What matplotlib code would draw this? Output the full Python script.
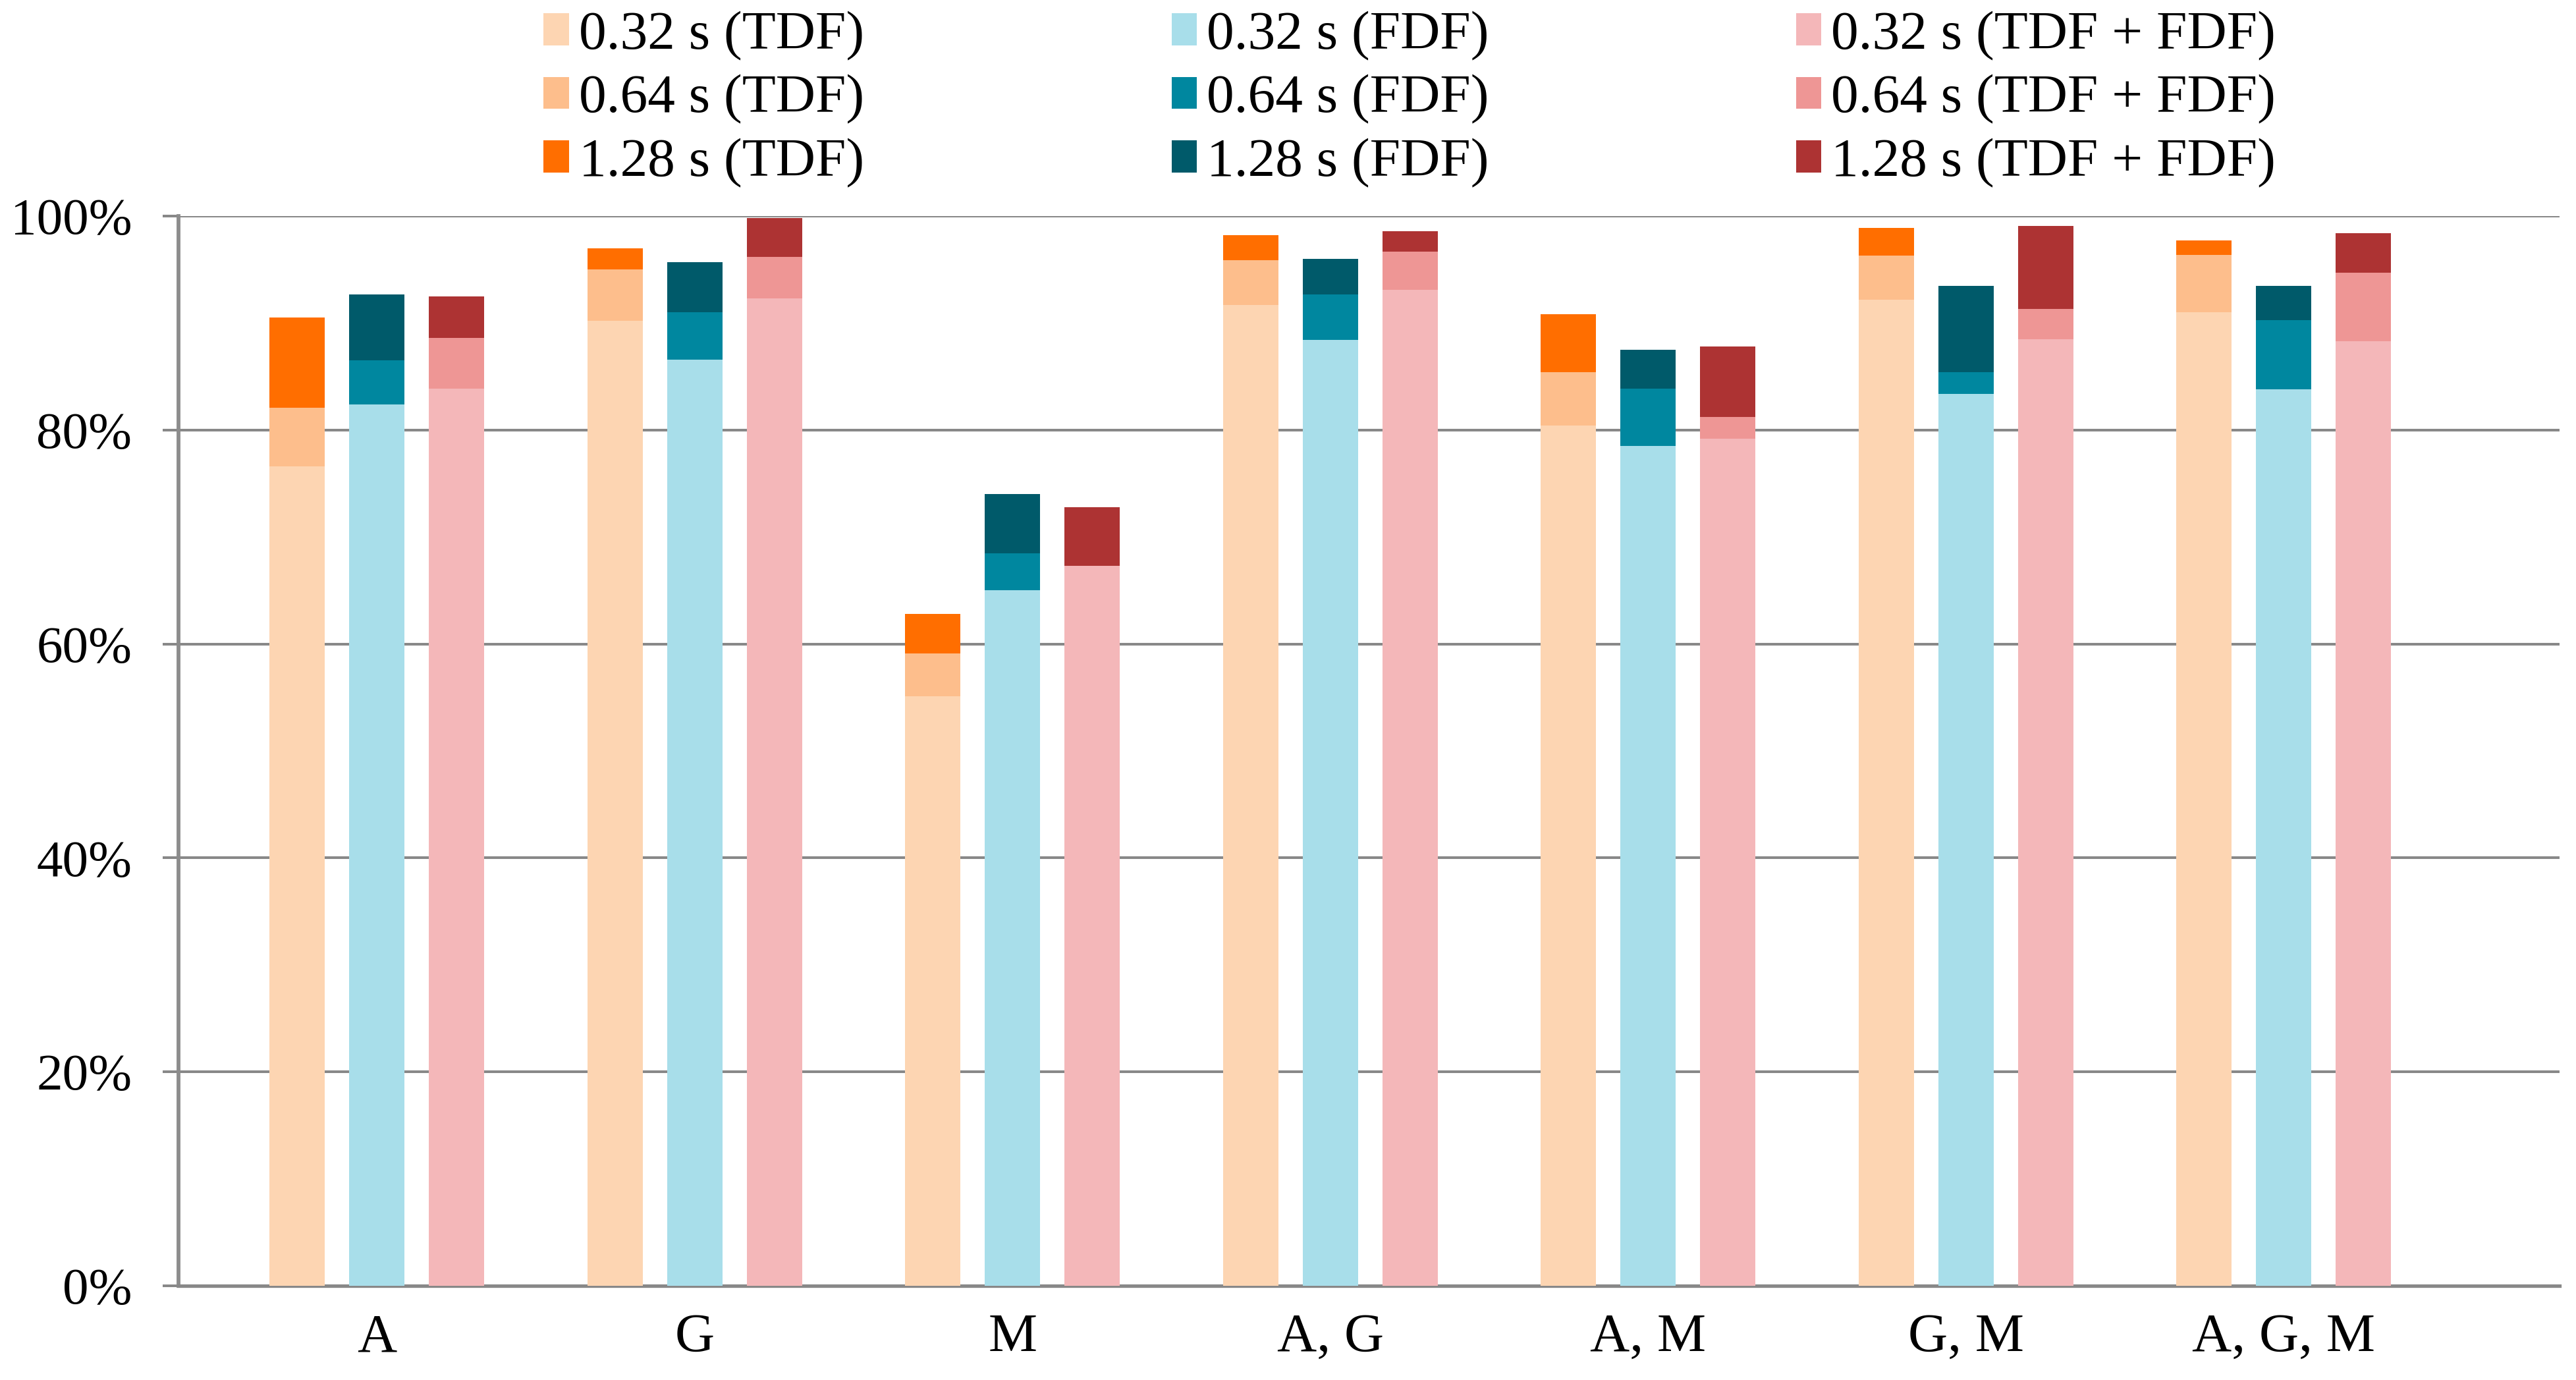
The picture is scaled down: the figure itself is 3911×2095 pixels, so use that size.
import matplotlib
matplotlib.use("Agg")
import matplotlib.pyplot as plt
import numpy as np
from matplotlib.ticker import PercentFormatter

# 데이터 (각 윈도 길이에서의 누적 정확도, %)
categories = ["A", "G", "M", "A, G", "A, M", "G, M", "A, G, M"]
windows = ["0.32 s", "0.64 s", "1.28 s"]

tdf_032 = [76.6, 90.2, 55.1, 91.7, 80.4, 92.2, 91.0]
tdf_064 = [82.1, 95.0, 59.1, 95.9, 85.4, 96.3, 96.4]
tdf_128 = [90.5, 97.0, 62.8, 98.2, 90.8, 98.9, 97.7]

fdf_032 = [82.4, 86.6, 65.0, 88.4, 78.5, 83.4, 83.8]
fdf_064 = [86.5, 91.0, 68.5, 92.7, 83.9, 85.4, 90.3]
fdf_128 = [92.7, 95.7, 74.0, 96.0, 87.5, 93.5, 93.5]

both_032 = [83.9, 92.3, 67.3, 93.1, 79.2, 88.5, 88.3]
both_064 = [88.6, 96.2, 67.3, 96.7, 81.2, 91.3, 94.7]
both_128 = [92.5, 99.8, 72.8, 98.6, 87.8, 99.1, 98.4]

methods = ["TDF", "FDF", "TDF + FDF"]
values = [
    [tdf_032, tdf_064, tdf_128],
    [fdf_032, fdf_064, fdf_128],
    [both_032, both_064, both_128],
]
colors = [
    ["#FDD5B2", "#FDBE8C", "#FF6E00"],
    ["#A8DEEA", "#00879F", "#005A6A"],
    ["#F4B7B9", "#EE9695", "#AD3333"],
]

plt.rcParams["font.family"] = ["Liberation Serif", "DejaVu Serif"]

fig = plt.figure(figsize=(39.12, 20.95), dpi=100)
ax = fig.add_axes([0.0693, 0.0683, 0.9241, 0.7751])

x = np.arange(len(categories))
width = 0.174
offsets = [-0.251, 0.0, 0.251]

handles = [[None] * 3 for _ in range(3)]
for m in range(3):
    prev = np.zeros(len(categories))
    for w in range(3):
        top = np.array(values[m][w])
        h = ax.bar(x + offsets[m], top - prev, width, bottom=prev,
                   color=colors[m][w], linewidth=0, zorder=3,
                   label=f"{windows[w]} ({methods[m]})")
        handles[m][w] = h
        prev = top

ax.set_ylim(0, 100)
ax.set_xlim(-0.624, 6.868)
ax.set_yticks(np.arange(0, 101, 20))
ax.yaxis.set_major_formatter(PercentFormatter(decimals=0))
ax.set_xticks(x)
ax.set_xticklabels(categories)

ax.grid(axis="y", color="#888888", linewidth=2.9, zorder=0)
ax.set_axisbelow(True)
for s in ["top", "right"]:
    ax.spines[s].set_visible(False)
ax.spines["left"].set_color("#8c8c8c")
ax.spines["left"].set_linewidth(4.2)
ax.spines["bottom"].set_color("#888888")
ax.spines["bottom"].set_linewidth(3.8)

ax.tick_params(axis="y", length=17, width=2.9, color="#888888", pad=34,
               labelsize=57)
ax.tick_params(axis="x", length=0, pad=30, labelsize=60)

flat = [handles[m][w] for m in range(3) for w in range(3)]
fig.legend(handles=flat, labels=[h.get_label() for h in flat],
           loc="upper left", bbox_to_anchor=(0.211, 0.992), ncol=3,
           frameon=False, fontsize=60, borderpad=0, borderaxespad=0,
           handlelength=0.46, handleheight=0.52, handletextpad=0.18,
           columnspacing=5.6, labelspacing=0.25)

fig.savefig("out.png", dpi=100, facecolor="white")
